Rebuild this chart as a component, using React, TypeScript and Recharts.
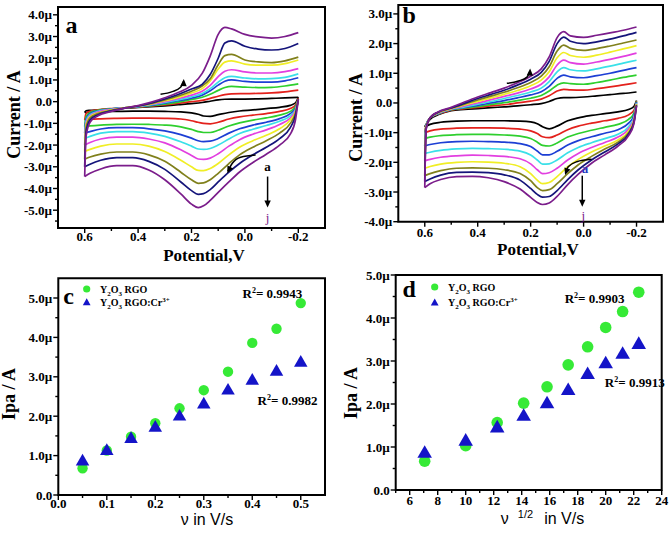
import React from 'react';
import { ComposedChart, Line, Scatter, XAxis, YAxis, ReferenceArea, Legend } from 'recharts';

const SERIF = '"Liberation Serif","Times New Roman",Times,serif';
const SANS = '"Liberation Sans",Arial,Helvetica,sans-serif';

// ---------- Panels a & b : cyclic voltammograms (curves a..j) ----------
const SCAN_LABELS = ['a', 'b', 'c', 'd', 'e', 'f', 'g', 'h', 'i', 'j'];
const SCAN_COLORS = ['#000000', '#e3211c', '#2ecf2e', '#1d3fd4', '#3ae0e8', '#e23fe0', '#f0ee25', '#80801c', '#14147a', '#7b1d8b'];

// forward sweep potentials (0.6 -> -0.2 V) and reverse sweep potentials (-0.2 -> 0.6 V)
const UP_POT = [0.6, 0.595, 0.58, 0.55, 0.5, 0.45, 0.4, 0.35, 0.3, 0.25, 0.2, 0.16, 0.13, 0.1, 0.075, 0.05, 0.0, -0.05, -0.1, -0.15, -0.2];
const LO_POT = [-0.2, -0.19, -0.17, -0.13, -0.08, -0.03, 0.02, 0.06, 0.1, 0.13, 0.155, 0.175, 0.2, 0.24, 0.3, 0.36, 0.42, 0.48, 0.54, 0.58, 0.6];

// current in µA
const A_UPPER = [
  [-0.5, -0.42, -0.4, -0.38, -0.34, -0.3, -0.27, -0.23, -0.19, -0.14, -0.09, -0.04, 0.02, 0.08, 0.11, 0.12, 0.12, 0.13, 0.15, 0.17, 0.2],
  [-0.85, -0.55, -0.44, -0.38, -0.32, -0.28, -0.25, -0.2, -0.15, -0.08, 0.0, 0.06, 0.15, 0.25, 0.32, 0.36, 0.37, 0.38, 0.4, 0.45, 0.53],
  [-1.15, -0.7, -0.5, -0.4, -0.33, -0.28, -0.24, -0.18, -0.11, -0.02, 0.1, 0.2, 0.34, 0.52, 0.65, 0.7, 0.67, 0.65, 0.66, 0.72, 0.82],
  [-1.45, -0.8, -0.55, -0.43, -0.34, -0.28, -0.23, -0.16, -0.07, 0.04, 0.16, 0.3, 0.5, 0.76, 0.94, 1.0, 0.93, 0.9, 0.9, 0.96, 1.1],
  [-1.7, -0.9, -0.6, -0.45, -0.35, -0.28, -0.22, -0.14, -0.04, 0.08, 0.22, 0.38, 0.6, 0.9, 1.1, 1.16, 1.09, 1.05, 1.06, 1.12, 1.28],
  [-2.0, -1.0, -0.65, -0.48, -0.36, -0.28, -0.21, -0.12, 0.0, 0.14, 0.3, 0.48, 0.75, 1.15, 1.4, 1.47, 1.37, 1.32, 1.32, 1.38, 1.52],
  [-2.3, -1.1, -0.7, -0.52, -0.38, -0.28, -0.2, -0.1, 0.04, 0.2, 0.4, 0.6, 0.95, 1.5, 1.82, 1.88, 1.73, 1.68, 1.68, 1.75, 1.92],
  [-2.65, -1.2, -0.75, -0.55, -0.4, -0.29, -0.2, -0.08, 0.08, 0.26, 0.48, 0.72, 1.05, 1.7, 2.12, 2.18, 1.92, 1.83, 1.8, 1.88, 2.05],
  [-3.0, -1.4, -0.85, -0.6, -0.42, -0.3, -0.2, -0.06, 0.12, 0.33, 0.58, 0.8, 1.25, 2.0, 2.7, 2.8, 2.55, 2.42, 2.38, 2.45, 2.68],
  [-3.45, -1.6, -0.95, -0.65, -0.45, -0.3, -0.18, -0.02, 0.18, 0.42, 0.75, 1.3, 2.1, 3.1, 3.42, 3.35, 3.1, 2.98, 2.93, 3.0, 3.18],
];
const A_LOWER = [
  [0.2, -0.05, -0.17, -0.26, -0.32, -0.38, -0.43, -0.5, -0.6, -0.68, -0.66, -0.58, -0.52, -0.47, -0.45, -0.44, -0.44, -0.45, -0.46, -0.48, -0.5],
  [0.15, -0.15, -0.32, -0.45, -0.55, -0.62, -0.7, -0.8, -0.95, -1.02, -1.0, -0.95, -0.88, -0.8, -0.77, -0.76, -0.76, -0.77, -0.79, -0.82, -0.85],
  [0.12, -0.22, -0.45, -0.62, -0.75, -0.85, -0.98, -1.12, -1.32, -1.42, -1.42, -1.38, -1.28, -1.16, -1.08, -1.05, -1.04, -1.05, -1.08, -1.12, -1.15],
  [0.1, -0.3, -0.55, -0.78, -0.95, -1.08, -1.25, -1.45, -1.7, -1.82, -1.84, -1.8, -1.68, -1.52, -1.35, -1.25, -1.2, -1.2, -1.26, -1.38, -1.45],
  [0.1, -0.35, -0.65, -0.9, -1.1, -1.27, -1.47, -1.72, -2.0, -2.16, -2.2, -2.18, -2.05, -1.85, -1.6, -1.45, -1.38, -1.38, -1.45, -1.6, -1.7],
  [0.1, -0.4, -0.75, -1.05, -1.3, -1.5, -1.75, -2.05, -2.4, -2.6, -2.66, -2.64, -2.48, -2.22, -1.9, -1.72, -1.63, -1.63, -1.72, -1.88, -2.0],
  [0.1, -0.45, -0.85, -1.25, -1.55, -1.8, -2.1, -2.45, -2.85, -3.08, -3.18, -3.17, -3.0, -2.7, -2.3, -2.05, -1.95, -1.95, -2.05, -2.2, -2.3],
  [0.1, -0.5, -1.0, -1.45, -1.8, -2.1, -2.45, -2.85, -3.3, -3.6, -3.74, -3.76, -3.6, -3.25, -2.75, -2.45, -2.32, -2.32, -2.42, -2.55, -2.65],
  [0.1, -0.6, -1.2, -1.7, -2.1, -2.45, -2.85, -3.25, -3.7, -4.05, -4.24, -4.27, -4.1, -3.7, -3.12, -2.75, -2.58, -2.58, -2.7, -2.88, -3.0],
  [0.1, -0.8, -1.5, -2.0, -2.42, -2.8, -3.24, -3.7, -4.18, -4.55, -4.8, -4.88, -4.72, -4.25, -3.6, -3.15, -2.95, -2.95, -3.1, -3.3, -3.45],
];
const B_UPPER = [
  [-0.8, -0.72, -0.55, -0.4, -0.26, -0.22, -0.19, -0.16, -0.13, -0.1, -0.06, -0.02, 0.05, 0.15, 0.18, 0.18, 0.2, 0.24, 0.28, 0.32, 0.37],
  [-1.0, -0.75, -0.5, -0.38, -0.24, -0.19, -0.15, -0.1, -0.06, 0.0, 0.06, 0.13, 0.24, 0.4, 0.46, 0.44, 0.43, 0.48, 0.54, 0.61, 0.68],
  [-1.2, -0.76, -0.5, -0.37, -0.23, -0.17, -0.12, -0.05, 0.01, 0.08, 0.16, 0.25, 0.4, 0.6, 0.68, 0.65, 0.63, 0.69, 0.77, 0.86, 0.94],
  [-1.45, -0.77, -0.5, -0.36, -0.22, -0.15, -0.08, 0.0, 0.08, 0.17, 0.27, 0.38, 0.56, 0.83, 0.94, 0.88, 0.85, 0.92, 1.0, 1.1, 1.19],
  [-1.7, -0.78, -0.5, -0.35, -0.21, -0.13, -0.04, 0.05, 0.15, 0.25, 0.37, 0.5, 0.72, 1.05, 1.19, 1.12, 1.08, 1.15, 1.24, 1.34, 1.44],
  [-1.95, -0.8, -0.5, -0.34, -0.2, -0.1, 0.0, 0.11, 0.22, 0.33, 0.47, 0.63, 0.88, 1.28, 1.44, 1.36, 1.31, 1.38, 1.47, 1.57, 1.68],
  [-2.2, -0.83, -0.5, -0.33, -0.19, -0.07, 0.05, 0.17, 0.29, 0.42, 0.58, 0.77, 1.05, 1.52, 1.7, 1.6, 1.54, 1.61, 1.71, 1.82, 1.93],
  [-2.45, -0.85, -0.5, -0.32, -0.18, -0.04, 0.1, 0.23, 0.36, 0.51, 0.69, 0.9, 1.22, 1.75, 1.95, 1.84, 1.77, 1.83, 1.92, 2.02, 2.12],
  [-2.65, -0.88, -0.5, -0.31, -0.17, -0.01, 0.15, 0.29, 0.43, 0.6, 0.8, 1.03, 1.4, 2.0, 2.22, 2.08, 2.0, 2.06, 2.15, 2.26, 2.38],
  [-2.85, -0.9, -0.5, -0.3, -0.15, 0.03, 0.2, 0.35, 0.5, 0.68, 0.9, 1.15, 1.55, 2.2, 2.4, 2.26, 2.21, 2.28, 2.36, 2.45, 2.56],
];
const B_LOWER = [
  [0.08, -0.12, -0.22, -0.3, -0.36, -0.42, -0.5, -0.6, -0.78, -0.87, -0.8, -0.7, -0.64, -0.61, -0.6, -0.6, -0.6, -0.61, -0.65, -0.72, -0.8],
  [0.06, -0.25, -0.4, -0.52, -0.6, -0.68, -0.78, -0.9, -1.08, -1.17, -1.14, -1.03, -0.94, -0.88, -0.85, -0.84, -0.84, -0.85, -0.88, -0.94, -1.0],
  [0.05, -0.35, -0.55, -0.72, -0.82, -0.92, -1.03, -1.15, -1.35, -1.45, -1.43, -1.32, -1.2, -1.12, -1.08, -1.06, -1.06, -1.07, -1.1, -1.15, -1.2],
  [0.03, -0.42, -0.68, -0.9, -1.02, -1.14, -1.27, -1.42, -1.63, -1.75, -1.75, -1.62, -1.47, -1.37, -1.32, -1.3, -1.29, -1.3, -1.34, -1.4, -1.45],
  [0.0, -0.5, -0.8, -1.05, -1.2, -1.34, -1.5, -1.68, -1.92, -2.05, -2.06, -1.92, -1.75, -1.62, -1.56, -1.54, -1.53, -1.55, -1.6, -1.66, -1.7],
  [-0.02, -0.55, -0.88, -1.15, -1.33, -1.5, -1.7, -1.92, -2.2, -2.35, -2.38, -2.25, -2.05, -1.88, -1.8, -1.77, -1.76, -1.78, -1.83, -1.9, -1.95],
  [-0.04, -0.6, -0.95, -1.25, -1.45, -1.65, -1.9, -2.15, -2.48, -2.68, -2.72, -2.6, -2.38, -2.15, -2.03, -1.99, -1.98, -2.0, -2.06, -2.14, -2.2],
  [-0.06, -0.63, -1.0, -1.32, -1.55, -1.8, -2.08, -2.38, -2.72, -2.92, -2.95, -2.85, -2.62, -2.38, -2.25, -2.2, -2.19, -2.2, -2.28, -2.38, -2.45],
  [-0.08, -0.66, -1.05, -1.38, -1.65, -1.92, -2.25, -2.58, -2.95, -3.15, -3.17, -3.08, -2.88, -2.6, -2.42, -2.35, -2.33, -2.34, -2.43, -2.56, -2.65],
  [-0.1, -0.7, -1.1, -1.45, -1.75, -2.03, -2.4, -2.75, -3.15, -3.37, -3.42, -3.35, -3.18, -2.9, -2.65, -2.52, -2.47, -2.48, -2.58, -2.72, -2.85],
];

// ---------- Panels c & d : anodic peak current ----------
const SCAN_RATE = [0.05, 0.1, 0.15, 0.2, 0.25, 0.3, 0.35, 0.4, 0.45, 0.5];
const SQRT_RATE = [7.07, 10, 12.25, 14.14, 15.81, 17.32, 18.71, 20, 21.21, 22.36];
const C_RGO = [0.68, 1.13, 1.48, 1.82, 2.2, 2.66, 3.13, 3.86, 4.22, 4.87];
const C_CR = [0.88, 1.15, 1.45, 1.74, 2.02, 2.33, 2.68, 2.93, 3.16, 3.39];
const D_RGO = [0.67, 1.03, 1.57, 2.02, 2.4, 2.91, 3.33, 3.78, 4.15, 4.6];
const D_CR = [0.88, 1.16, 1.47, 1.74, 2.03, 2.34, 2.71, 2.96, 3.18, 3.41];

// ---------- ticks ----------
const AB_X_TICKS = [0.6, 0.5, 0.4, 0.3, 0.2, 0.1, 0, -0.1, -0.2];
const AB_X_MAJOR = [0.6, 0.4, 0.2, 0, -0.2];
const A_Y_TICKS = [-5.5, -5, -4.5, -4, -3.5, -3, -2.5, -2, -1.5, -1, -0.5, 0, 0.5, 1, 1.5, 2, 2.5, 3, 3.5, 4];
const A_Y_MAJOR = [-5, -4, -3, -2, -1, 0, 1, 2, 3, 4];
const B_Y_TICKS = [-4, -3.5, -3, -2.5, -2, -1.5, -1, -0.5, 0, 0.5, 1, 1.5, 2, 2.5, 3];
const B_Y_MAJOR = [-4, -3, -2, -1, 0, 1, 2, 3];
const C_X_TICKS = [0, 0.05, 0.1, 0.15, 0.2, 0.25, 0.3, 0.35, 0.4, 0.45, 0.5];
const C_X_MAJOR = [0, 0.1, 0.2, 0.3, 0.4, 0.5];
const CD_Y_TICKS = [0, 0.5, 1, 1.5, 2, 2.5, 3, 3.5, 4, 4.5, 5];
const CD_Y_MAJOR = [0, 1, 2, 3, 4, 5];
const D_X_TICKS = [5, 6, 7, 8, 9, 10, 11, 12, 13, 14, 15, 16, 17, 18, 19, 20, 21, 22, 23, 24];
const D_X_MAJOR = [6, 8, 10, 12, 14, 16, 18, 20, 22, 24];

// ---------- annotations (data coordinates) ----------
const A_SWEEP_ARROW_1 = [{ x: 0.316, y: 0.34 }, { x: 0.272, y: 0.46 }, { x: 0.241, y: 0.66 }, { x: 0.229, y: 0.95 }];
const A_SWEEP_ARROW_2 = [{ x: -0.04, y: -2.46 }, { x: 0.016, y: -2.56 }, { x: 0.047, y: -2.84 }, { x: 0.064, y: -3.2 }];
const A_ORDER_ARROW = [{ x: -0.085, y: -3.45 }, { x: -0.085, y: -4.72 }];
const A_HEADS = [{ x: 0.229, y: 1.04, a: -88 }, { x: 0.066, y: -3.3, a: 116 }, { x: -0.085, y: -4.87, a: 90 }];
const A_FIRST = [{ x: -0.085, y: -3.19, t: 'a' }];
const A_LAST = [{ x: -0.085, y: -5.54, t: 'j' }];
const A_PANEL = [{ x: 0.672, y: 3.17, t: 'a' }];

const B_SWEEP_ARROW_1 = [{ x: 0.29, y: 0.66 }, { x: 0.246, y: 0.74 }, { x: 0.214, y: 0.87 }, { x: 0.203, y: 1.06 }];
const B_SWEEP_ARROW_2 = [{ x: -0.03, y: -1.9 }, { x: 0.026, y: -1.98 }, { x: 0.058, y: -2.15 }, { x: 0.068, y: -2.33 }];
const B_ORDER_ARROW = [{ x: 0.005, y: -2.45 }, { x: 0.005, y: -3.4 }];
const B_HEADS = [{ x: 0.202, y: 1.16, a: -88 }, { x: 0.07, y: -2.43, a: 110 }, { x: 0.005, y: -3.5, a: 90 }];
const B_FIRST = [{ x: -0.005, y: -2.36, t: 'a' }];
const B_LAST = [{ x: 0.001, y: -3.94, t: 'j' }];
const B_PANEL = [{ x: 0.684, y: 2.71, t: 'b' }];

const C_PANEL = [{ x: 0.01, y: 4.86, t: 'c' }];
const C_R2 = [{ x: 0.38, y: 5.01, t: '0.9943' }, { x: 0.411, y: 2.28, t: '0.9982' }];
const D_PANEL = [{ x: 5.48, y: 4.5, t: 'd' }];
const D_R2 = [{ x: 17.07, y: 4.35, t: '0.9903' }, { x: 19.94, y: 2.4, t: '0.9913' }];

const GREEN = '#36ea36';
const BLUE = '#1414c8';

// ---------- helpers ----------
const near = (list: number[], v: number) => list.some((m) => Math.abs(m - v) < 1e-6);

function XTick(props: any) {
  const { x, y, payload, majors, fmt, gap } = props;
  const v = payload.value;
  const major = near(majors, v);
  return (
    <g>
      <line x1={x} y1={y} x2={x} y2={y + (major ? 5 : 3)} stroke="#000" strokeWidth={1.4} />
      {major && (
        <text x={x} y={y + gap} textAnchor="middle" fontFamily={SERIF} fontWeight="bold" fontSize={13} fill="#000">
          {fmt(v)}
        </text>
      )}
    </g>
  );
}

function YTick(props: any) {
  const { x, y, payload, majors, fmt } = props;
  const v = payload.value;
  const major = near(majors, v);
  return (
    <g>
      <line x1={x} y1={y} x2={x - (major ? 5 : 3)} y2={y} stroke="#000" strokeWidth={1.4} />
      {major && (
        <text x={x - 6} y={y + 4.5} textAnchor="end" fontFamily={SERIF} fontWeight="bold" fontSize={13} fill="#000">
          {fmt(v)}
        </text>
      )}
    </g>
  );
}

function YTitle(props: any) {
  const vb = props.viewBox || { x: 0, y: 0, width: 0, height: 0 };
  const x = vb.x + props.bx;
  const y = vb.y + vb.height / 2 + props.dy;
  return (
    <text x={x} y={y} transform={`rotate(-90, ${x}, ${y})`} textAnchor="middle" fontFamily={SERIF} fontWeight="bold" fontSize={props.size} fill="#000">
      {props.text}
    </text>
  );
}

function XTitle(props: any) {
  const vb = props.viewBox || { x: 0, y: 0, width: 0, height: 0 };
  const x = vb.x + vb.width / 2 + props.dx;
  const y = vb.y + props.by;
  if (props.kind === 'potential') {
    return (
      <text x={x} y={y} textAnchor="middle" fontFamily={SERIF} fontWeight="bold" fontSize={17} fill="#000">Potential,V</text>
    );
  }
  if (props.kind === 'rate') {
    return (
      <text x={x} y={y} textAnchor="middle" fontFamily={SANS} fontSize={16} fill="#000">{'\u03bd in V/s'}</text>
    );
  }
  return (
    <text x={x} y={y} textAnchor="middle" fontFamily={SANS} fontSize={16} fill="#000">
      {'\u03bd'}
      <tspan dx={9} dy={-6} fontSize={11}>1/2</tspan>
      <tspan dx={11} dy={6}>in V/s</tspan>
    </text>
  );
}

const fmtCurrent = (v: number) => (Math.abs(v) < 1e-9 ? '0.0' : v.toFixed(1) + '\u00b5');
const fmtPot = (v: number) => (Math.abs(v) < 1e-9 ? '0.0' : v.toFixed(1));
const fmtInt = (v: number) => String(v);

const textShape = (style: any) => (p: any) => (
  <text x={p.cx} y={p.cy} {...style}>{p.payload.t}</text>
);
const r2Shape = (p: any) => (
  <text x={p.cx} y={p.cy} fontFamily={SERIF} fontWeight="bold" fontSize={13} fill="#000">
    R<tspan dy={-5} fontSize={8}>2</tspan>
    <tspan dy={5}>{'= ' + p.payload.t}</tspan>
  </text>
);
const headShape = (p: any) => (
  <polygon
    points="0,0 -7,-3.2 -7,3.2"
    fill="#000"
    transform={`translate(${p.cx},${p.cy}) rotate(${p.payload.a})`}
  />
);
const circleShape = (r: number) => (p: any) => <circle cx={p.cx} cy={p.cy} r={r} fill={GREEN} />;
const triShape = (w: number) => (p: any) => (
  <polygon points={`${p.cx},${p.cy - w * 0.5} ${p.cx - w * 0.52},${p.cy + w * 0.4} ${p.cx + w * 0.52},${p.cy + w * 0.4}`} fill={BLUE} />
);

const noteStyle = (color: string, bold: boolean) => ({
  fontFamily: SERIF, fontWeight: bold ? 'bold' : 'normal', fontSize: 13, fill: color, textAnchor: 'middle',
});
const panelStyle = { fontFamily: SERIF, fontWeight: 'bold', fontSize: 24, fill: '#000', textAnchor: 'start' };

function buildCV(upper: number[][], lower: number[][]) {
  const out: any[] = [];
  SCAN_LABELS.forEach((lab, i) => {
    out.push({ key: lab + '-fwd', color: SCAN_COLORS[i], data: UP_POT.map((x, k) => ({ x, y: upper[i][k] })) });
    out.push({ key: lab + '-rev', color: SCAN_COLORS[i], data: LO_POT.map((x, k) => ({ x, y: lower[i][k] })) });
  });
  return out;
}
const pts = (xs: number[], ys: number[]) => xs.map((x, i) => ({ x, y: ys[i] }));

function LegendBox({ gap }: { gap: number }) {
  const sub = { fontSize: 7 };
  return (
    <svg width={150} height={36} style={{ display: 'block' }}>
      <circle cx={6.7} cy={9} r={3.6} fill={GREEN} />
      <text x={20} y={12.5} fontFamily={SERIF} fontWeight="bold" fontSize={10} fill="#000">
        Y<tspan dy={3} {...sub}>2</tspan><tspan dy={-3}>O</tspan><tspan dy={3} {...sub}>3</tspan><tspan dy={-3}> RGO</tspan>
      </text>
      <polygon points={`6.7,${9 + gap - 4} 2.8,${9 + gap + 3} 10.6,${9 + gap + 3}`} fill={BLUE} />
      <text x={20} y={12.5 + gap} fontFamily={SERIF} fontWeight="bold" fontSize={10} fill="#000">
        Y<tspan dy={3} {...sub}>2</tspan><tspan dy={-3}>O</tspan><tspan dy={3} {...sub}>3</tspan><tspan dy={-3}> RGO:Cr</tspan>
        <tspan dy={-4} {...sub}>3+</tspan>
      </text>
    </svg>
  );
}

function CVPanel(props: any) {
  const { width, height, margin, yWidth, xHeight, yDomain, yTicks, yMajor, upper, lower, arrows, heads, first, last, firstColor, panel, yTitle, xTitle, tickGap } = props;
  const curves = buildCV(upper, lower);
  return (
    <ComposedChart width={width} height={height} margin={margin}>
      <XAxis
        type="number" dataKey="x" domain={[-0.3, 0.7]} reversed
        ticks={AB_X_TICKS} interval={0} axisLine={false} tickLine={false} tickSize={0} tickMargin={0} height={xHeight}
        tick={<XTick majors={AB_X_MAJOR} fmt={fmtPot} gap={tickGap} />}
        label={<XTitle kind="potential" dx={xTitle.dx} by={xTitle.by} />}
      />
      <YAxis
        type="number" dataKey="y" domain={yDomain}
        ticks={yTicks} interval={0} axisLine={false} tickLine={false} tickSize={0} tickMargin={0} width={yWidth}
        tick={<YTick majors={yMajor} fmt={fmtCurrent} />}
        label={<YTitle text="Current / A" bx={yTitle.bx} dy={yTitle.dy} size={18} />}
      />
      {curves.map((c) => (
        <Line key={c.key} data={c.data} dataKey="y" type="monotone" stroke={c.color} strokeWidth={1.7}
          dot={false} activeDot={false} isAnimationActive={false} legendType="none" />
      ))}
      {arrows.map((a: any[], i: number) => (
        <Line key={'arrow' + i} data={a} dataKey="y" type={i === 2 ? 'linear' : 'monotone'} stroke="#000" strokeWidth={1.5}
          dot={false} activeDot={false} isAnimationActive={false} legendType="none" />
      ))}
      <Scatter data={heads} dataKey="y" shape={headShape} isAnimationActive={false} legendType="none" />
      <Scatter data={first} dataKey="y" shape={textShape(noteStyle(firstColor, true))} isAnimationActive={false} legendType="none" />
      <Scatter data={last} dataKey="y" shape={textShape(noteStyle('#7b1d8b', false))} isAnimationActive={false} legendType="none" />
      <Scatter data={panel} dataKey="y" shape={textShape(panelStyle)} isAnimationActive={false} legendType="none" />
      <ReferenceArea x1={-0.3} x2={0.7} y1={yDomain[0]} y2={yDomain[1]} fill="none" fillOpacity={0} stroke="#000" strokeWidth={2} ifOverflow="visible" />
    </ComposedChart>
  );
}

function RatePanel(props: any) {
  const { width, height, margin, yWidth, xHeight, xDomain, xTicks, xMajor, xFmt, xs, rgo, cr, panel, r2, yTitle, xTitle, tickGap, kind, legendPos, legendGap, circleR, triW } = props;
  return (
    <ComposedChart width={width} height={height} margin={margin}>
      <XAxis
        type="number" dataKey="x" domain={xDomain}
        ticks={xTicks} interval={0} axisLine={false} tickLine={false} tickSize={0} tickMargin={0} height={xHeight}
        tick={<XTick majors={xMajor} fmt={xFmt} gap={tickGap} />}
        label={<XTitle kind={kind} dx={xTitle.dx} by={xTitle.by} />}
      />
      <YAxis
        type="number" dataKey="y" domain={[0, props.yMax]}
        ticks={CD_Y_TICKS} interval={0} axisLine={false} tickLine={false} tickSize={0} tickMargin={0} width={yWidth}
        tick={<YTick majors={CD_Y_MAJOR} fmt={fmtCurrent} />}
        label={<YTitle text="Ipa / A" bx={yTitle.bx} dy={yTitle.dy} size={18} />}
      />
      <Legend
        verticalAlign="middle" align="center" layout="horizontal"
        wrapperStyle={{ left: legendPos.left, top: legendPos.top, width: 150, height: 36, margin: 0, padding: 0 }}
        content={() => <LegendBox gap={legendGap} />}
      />
      <Scatter name="Y2O3 RGO" data={pts(xs, rgo)} dataKey="y" shape={circleShape(circleR)} isAnimationActive={false} />
      <Scatter name="Y2O3 RGO:Cr3+" data={pts(xs, cr)} dataKey="y" shape={triShape(triW)} isAnimationActive={false} />
      <Scatter data={panel} dataKey="y" shape={textShape(panelStyle)} isAnimationActive={false} legendType="none" />
      <Scatter data={r2} dataKey="y" shape={r2Shape} isAnimationActive={false} legendType="none" />
      <ReferenceArea x1={xDomain[0]} x2={xDomain[1]} y1={0} y2={props.yMax} fill="none" fillOpacity={0} stroke="#000" strokeWidth={2} ifOverflow="visible" />
    </ComposedChart>
  );
}

export default function App() {
  return (
    <div style={{ position: 'absolute', left: 0, top: 0, width: 671, height: 535, background: '#fff', overflow: 'hidden' }}>
      <div style={{ position: 'absolute', left: 0, top: 0 }}>
        <CVPanel
          width={335} height={266} margin={{ top: 7, right: 10, bottom: 0, left: 0 }} yWidth={58} xHeight={38}
          yDomain={[-5.82, 4.36]} yTicks={A_Y_TICKS} yMajor={A_Y_MAJOR} upper={A_UPPER} lower={A_LOWER}
          arrows={[A_SWEEP_ARROW_1, A_SWEEP_ARROW_2, A_ORDER_ARROW]} heads={A_HEADS} first={A_FIRST} last={A_LAST}
          firstColor="#000" panel={A_PANEL} yTitle={{ bx: 19.5, dy: -3 }} xTitle={{ dx: 12.5, by: 32.5 }} tickGap={13}
        />
      </div>
      <div style={{ position: 'absolute', left: 335, top: 0 }}>
        <CVPanel
          width={336} height={262} margin={{ top: 5, right: 8, bottom: 0, left: 0 }} yWidth={63.3} xHeight={40.3}
          yDomain={[-4, 3.3]} yTicks={B_Y_TICKS} yMajor={B_Y_MAJOR} upper={B_UPPER} lower={B_LOWER}
          arrows={[B_SWEEP_ARROW_1, B_SWEEP_ARROW_2, B_ORDER_ARROW]} heads={B_HEADS} first={B_FIRST} last={B_LAST}
          firstColor="#2438c0" panel={B_PANEL} yTitle={{ bx: 27.5, dy: 4 }} xTitle={{ dx: 7.3, by: 33 }} tickGap={15.5}
        />
      </div>
      <div style={{ position: 'absolute', left: 0, top: 262 }}>
        <RatePanel
          width={335} height={273} margin={{ top: 16.3, right: 10, bottom: 0, left: 0 }} yWidth={58.3} xHeight={40}
          xDomain={[0, 0.55]} xTicks={C_X_TICKS} xMajor={C_X_MAJOR} xFmt={fmtPot} yMax={5.5}
          xs={SCAN_RATE} rgo={C_RGO} cr={C_CR} panel={C_PANEL} r2={C_R2}
          yTitle={{ bx: 15, dy: 7.3 }} xTitle={{ dx: 15.3, by: 30 }} tickGap={13} kind="rate"
          legendPos={{ left: 80, top: 18 }} legendGap={13.3} circleR={5.2} triW={13}
        />
      </div>
      <div style={{ position: 'absolute', left: 335, top: 262 }}>
        <RatePanel
          width={336} height={273} margin={{ top: 13, right: 9.3, bottom: 0, left: 0 }} yWidth={60.7} xHeight={45}
          xDomain={[5, 24]} xTicks={D_X_TICKS} xMajor={D_X_MAJOR} xFmt={fmtInt} yMax={5}
          xs={SQRT_RATE} rgo={D_RGO} cr={D_CR} panel={D_PANEL} r2={D_R2}
          yTitle={{ bx: 22, dy: 10.5 }} xTitle={{ dx: 13.8, by: 34 }} tickGap={15} kind="sqrt"
          legendPos={{ left: 93.3, top: 16.3 }} legendGap={15.4} circleR={5.8} triW={14}
        />
      </div>
    </div>
  );
}
